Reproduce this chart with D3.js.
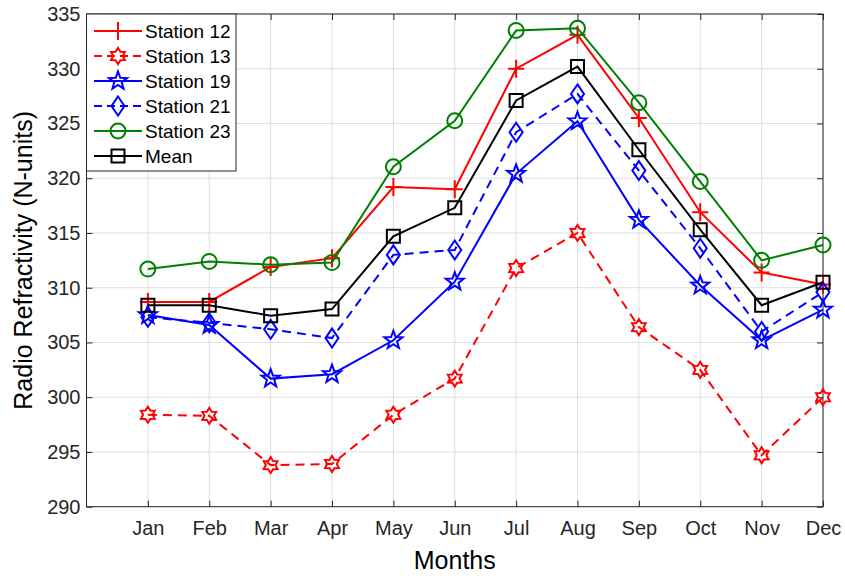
<!DOCTYPE html>
<html>
<head>
<meta charset="utf-8">
<script src="https://cdn.jsdelivr.net/npm/d3@7/dist/d3.min.js"></script>
<style>
  html, body { margin: 0; padding: 0; background: #fff; }
  svg { display: block; font-family: "Liberation Sans", Arial, sans-serif; }
</style>
</head>
<body>
<svg id="chart" width="845" height="576"></svg>
<script>
// ---- Data ----
const months = ["Jan","Feb","Mar","Apr","May","Jun","Jul","Aug","Sep","Oct","Nov","Dec"];
const yTicks = [290, 295, 300, 305, 310, 315, 320, 325, 330, 335];

const station12 = [308.7, 308.7, 311.9, 312.7, 319.2, 319.0, 330.0, 333.1, 325.5, 316.9, 311.4, 310.3];
const station13 = [298.4, 298.3, 293.8, 293.9, 298.4, 301.7, 311.8, 315.0, 306.4, 302.5, 294.7, 300.0];
const station19 = [307.5, 306.6, 301.7, 302.1, 305.2, 310.55, 320.4, 325.2, 316.2, 310.2, 305.2, 308.0];
const station21 = [307.3, 306.8, 306.2, 305.4, 313.0, 313.45, 324.2, 327.7, 320.7, 313.6, 306.0, 309.6];
const station23 = [311.7, 312.4, 312.1, 312.3, 321.05, 325.25, 333.5, 333.7, 326.9, 319.7, 312.5, 313.9];
const meanVals  = [308.4, 308.4, 307.45, 308.05, 314.7, 317.3, 327.1, 330.2, 322.6, 315.3, 308.4, 310.5];

const seriesNames = ["Station 12", "Station 13", "Station 19", "Station 21", "Station 23", "Mean"];
const seriesValues = [station12, station13, station19, station21, station23, meanVals];

// ---- Styles ----
const styles = [
  { color: "#ff0000", dash: null,  marker: "plus" },
  { color: "#ff0000", dash: "9,6", marker: "hexagram" },
  { color: "#0000ff", dash: null,  marker: "pentagram" },
  { color: "#0000ff", dash: "9,6", marker: "diamond" },
  { color: "#008000", dash: null,  marker: "circle" },
  { color: "#000000", dash: null,  marker: "square" }
];

const svg = d3.select("#chart");
const L = 86.5, R = 823, T = 14, B = 506.7;
const axisColor = "#262626";

const x = d3.scaleLinear().domain([0, 12]).range([L, R]);
const y = d3.scaleLinear().domain([290, 335]).range([B, T]);

function starPath(n, ro, ri) {
  let p = "";
  for (let i = 0; i < 2 * n; i++) {
    const r = i % 2 === 0 ? ro : ri;
    const a = -Math.PI / 2 + i * Math.PI / n;
    p += (i === 0 ? "M" : "L") + (r * Math.cos(a)).toFixed(2) + "," + (r * Math.sin(a)).toFixed(2);
  }
  return p + "Z";
}
const circR = 7.5;
const markerPaths = {
  plus: "M-8,0H8M0,-9V9",
  hexagram: starPath(6, 8, 4.8),
  pentagram: starPath(5, 9.5, 3.9),
  diamond: "M0,-9.5L6.5,0L0,9.5L-6.5,0Z",
  circle: `M${circR},0A${circR},${circR} 0 1,1 ${-circR},0A${circR},${circR} 0 1,1 ${circR},0Z`,
  square: "M-6.5,-6.5H6.5V6.5H-6.5Z"
};

// ---- Grid ----
const grid = svg.append("g");
grid.selectAll("line.vg").data(d3.range(1, 13)).join("line")
  .attr("x1", d => x(d)).attr("x2", d => x(d))
  .attr("y1", T).attr("y2", B)
  .attr("stroke", "#dfdfdf").attr("stroke-width", 1);
grid.selectAll("line.hg").data(yTicks).join("line")
  .attr("x1", L).attr("x2", R)
  .attr("y1", d => y(d)).attr("y2", d => y(d))
  .attr("stroke", "#dfdfdf").attr("stroke-width", 1);

// ---- Axes ----
const xAxisB = d3.axisBottom(x).tickValues(d3.range(1, 13)).tickFormat(d => months[d - 1]).tickSizeInner(-6).tickSizeOuter(0).tickPadding(14);
const xAxisT = d3.axisTop(x).tickValues(d3.range(1, 13)).tickFormat("").tickSizeInner(-6).tickSizeOuter(0);
const yAxisL = d3.axisLeft(y).tickValues(yTicks).tickSizeInner(-6).tickSizeOuter(0).tickPadding(6);
const yAxisR = d3.axisRight(y).tickValues(yTicks).tickFormat("").tickSizeInner(-6).tickSizeOuter(0);

function styleAxis(g) {
  g.select(".domain").remove();
  g.selectAll(".tick line").attr("stroke", axisColor);
  g.selectAll(".tick text").attr("fill", axisColor).style("font-size", "20px").style("font-family", "'Liberation Sans', Arial, sans-serif");
}
svg.append("g").attr("transform", `translate(0,${B})`).call(xAxisB).call(styleAxis);
svg.append("g").attr("transform", `translate(0,${T})`).call(xAxisT).call(styleAxis);
svg.append("g").attr("transform", `translate(${L},0)`).call(yAxisL).call(styleAxis);
svg.append("g").attr("transform", `translate(${R},0)`).call(yAxisR).call(styleAxis);

// box
svg.append("rect").attr("x", L).attr("y", T).attr("width", R - L).attr("height", B - T)
  .attr("fill", "none").attr("stroke", axisColor).attr("stroke-width", 1);

// ---- Series ----
const line = d3.line().x((d, i) => x(i + 1)).y(d => y(d));
seriesValues.forEach((vals, si) => {
  const st = styles[si];
  const g = svg.append("g");
  g.append("path").datum(vals).attr("d", line)
    .attr("fill", "none").attr("stroke", st.color).attr("stroke-width", 2)
    .attr("stroke-dasharray", st.dash);
  g.selectAll("path.m").data(vals).join("path")
    .attr("transform", (d, i) => `translate(${x(i + 1)},${y(d)})`)
    .attr("d", markerPaths[st.marker])
    .attr("fill", "none").attr("stroke", st.color).attr("stroke-width", 2);
});

// ---- Legend ----
const lg = svg.append("g");
lg.append("rect").attr("x", L).attr("y", T).attr("width", 236 - L).attr("height", 171 - T)
  .attr("fill", "#fff").attr("stroke", axisColor).attr("stroke-width", 1);
seriesNames.forEach((name, i) => {
  const st = styles[i];
  const cy = 31 + i * 25;
  lg.append("line").attr("x1", 94).attr("x2", 142).attr("y1", cy).attr("y2", cy)
    .attr("stroke", st.color).attr("stroke-width", 2).attr("stroke-dasharray", st.dash ? "8,5" : null);
  lg.append("path").attr("transform", `translate(118,${cy})`).attr("d", markerPaths[st.marker])
    .attr("fill", "none").attr("stroke", st.color).attr("stroke-width", 2);
  lg.append("text").attr("x", 145).attr("y", cy).attr("dy", "0.35em")
    .attr("fill", "#000").style("font-size", "19px").text(name);
});

// ---- Axis titles ----
svg.append("text").attr("x", (L + R) / 2).attr("y", 569).attr("text-anchor", "middle")
  .attr("fill", "#000").style("font-size", "25px").text("Months");
svg.append("text").attr("transform", `translate(32,${(T + B) / 2}) rotate(-90)`).attr("text-anchor", "middle")
  .attr("fill", "#000").style("font-size", "25px").text("Radio Refractivity (N-units)");
</script>
</body>
</html>
